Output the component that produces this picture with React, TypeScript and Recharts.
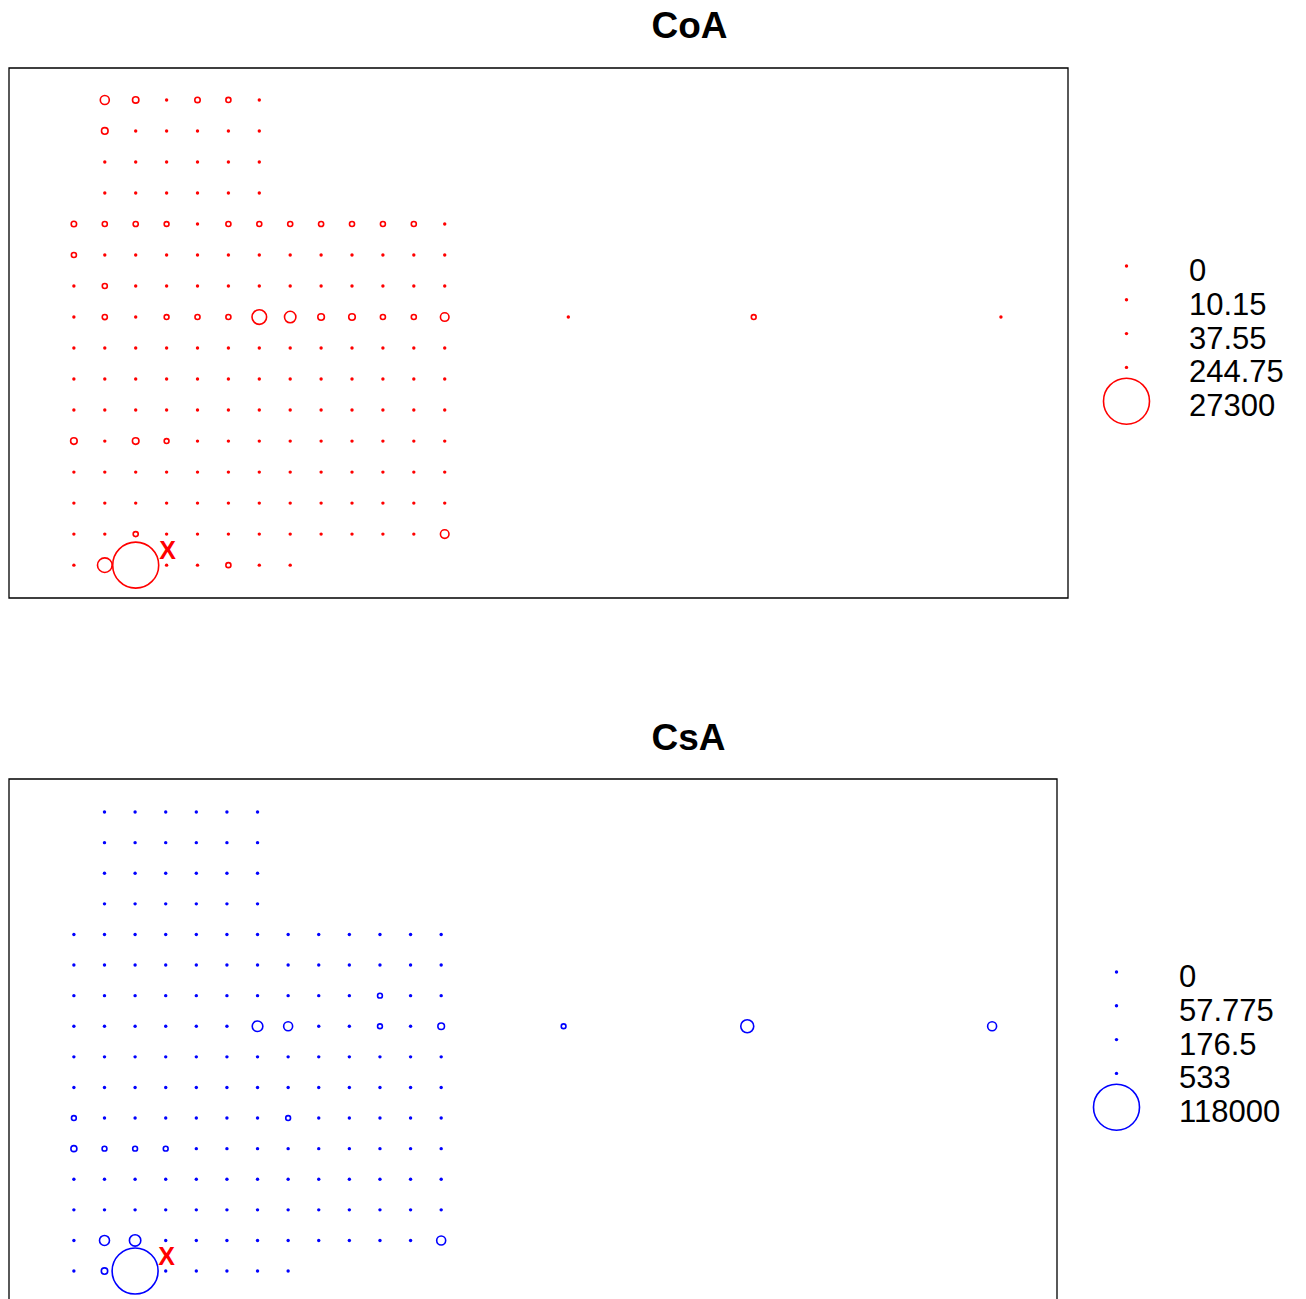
import React from 'react';
import { ScatterChart, Scatter, XAxis, YAxis, ZAxis, ReferenceArea } from 'recharts';

// grid positions (columns left to right, rows top to bottom)
const gridCols = [0, 1, 2, 3, 4, 5, 6, 7, 8, 9, 10, 11, 12];
const gridRows = [15, 14, 13, 12, 11, 10, 9, 8, 7, 6, 5, 4, 3, 2, 1, 0];
const farCols = [16, 22, 30];
const farRow = 8;
const sourceSpot = [{ x: 3.03, y: 0.5, label: 'X' }];

// CoA values per row (null = no sample)
const coaRows: (number | null)[][] = [
  [null, 1050, 530, 40, 380, 330, 60, null, null, null, null, null, null],
  [null, 560, 25, 30, 18, 22, 35, null, null, null, null, null, null],
  [null, 12, 15, 20, 10, 14, 28, null, null, null, null, null, null],
  [null, 8, 11, 16, 9, 12, 20, null, null, null, null, null, null],
  [380, 330, 340, 300, 90, 330, 320, 330, 340, 330, 320, 330, 120],
  [330, 40, 30, 25, 20, 30, 35, 28, 22, 18, 25, 30, 45],
  [60, 330, 45, 30, 25, 20, 35, 30, 25, 20, 15, 20, 40],
  [80, 340, 70, 300, 330, 330, 2750, 1680, 560, 560, 330, 330, 950],
  [20, 15, 12, 10, 8, 10, 15, 12, 10, 8, 6, 10, 18],
  [10, 8, 6, 5, 4, 6, 8, 6, 5, 4, 3, 5, 10],
  [8, 6, 5, 4, 3, 4, 6, 5, 4, 3, 0, 4, 8],
  [560, 40, 560, 300, 30, 12, 10, 8, 6, 5, 4, 6, 10],
  [20, 15, 25, 20, 10, 8, 6, 5, 4, 3, 0, 3, 6],
  [30, 25, 40, 30, 15, 10, 8, 6, 5, 4, 3, 0, 4],
  [50, 80, 330, 60, 30, 20, 15, 10, 8, 5, 3, 0, 950],
  [100, 2750, 27300, 150, 60, 330, 40, 20, null, null, null, null, null],
];
const coaFar = [30, 300, 10];
const coaKeys = [0, 10.15, 37.55, 244.75, 27300];
const coaKeyLabels = ['0', '10.15', '37.55', '244.75', '27300'];

// CsA values per row
const csaRows: (number | null)[][] = [
  [null, 50, 40, 30, 35, 45, 60, null, null, null, null, null, null],
  [null, 40, 30, 25, 30, 35, 50, null, null, null, null, null, null],
  [null, 30, 25, 20, 25, 30, 40, null, null, null, null, null, null],
  [null, 25, 20, 15, 20, 25, 35, null, null, null, null, null, null],
  [100, 80, 60, 50, 60, 70, 90, 80, 70, 60, 70, 80, 100],
  [150, 120, 90, 70, 80, 100, 130, 110, 90, 80, 100, 120, 150],
  [200, 160, 120, 90, 100, 130, 180, 150, 120, 100, 1300, 160, 200],
  [300, 250, 180, 150, 160, 200, 6300, 4500, 250, 200, 1300, 300, 2430],
  [250, 200, 150, 120, 130, 160, 220, 180, 150, 130, 160, 200, 300],
  [200, 160, 130, 100, 110, 140, 180, 150, 120, 100, 130, 160, 250],
  [1300, 180, 150, 120, 130, 160, 200, 1300, 140, 120, 150, 180, 280],
  [2000, 1300, 1300, 1300, 200, 180, 220, 200, 160, 140, 170, 200, 300],
  [400, 350, 300, 250, 200, 180, 160, 150, 130, 120, 140, 170, 250],
  [500, 450, 400, 350, 280, 220, 180, 160, 140, 130, 150, 200, 350],
  [600, 5575, 7250, 520, 400, 300, 250, 200, 180, 160, 200, 300, 4500],
  [0, 2280, 118000, 530, 450, 350, 300, 250, null, null, null, null, null],
];
const csaFar = [1250, 9400, 4500];
const csaKeys = [0, 57.775, 176.5, 533, 118000];
const csaKeyLabels = ['0', '57.775', '176.5', '533', '118000'];

const MAX_R = 23;
const FONT = 'Liberation Sans, Arial, Helvetica, sans-serif';

function toPoints(rows: (number | null)[][], far: number[]) {
  const pts: { x: number; y: number; v: number }[] = [];
  rows.forEach((row, j) =>
    row.forEach((v, i) => {
      if (v !== null) pts.push({ x: gridCols[i], y: gridRows[j], v });
    })
  );
  far.forEach((v, k) => pts.push({ x: farCols[k], y: farRow, v }));
  return pts;
}

// tiny circles read as dots, like R's pch=1 at small cex
function symbol(cx: number, cy: number, r: number, color: string) {
  if (!(r >= 2.25)) return <circle cx={cx} cy={cy} r={1.7} fill={color} />;
  return <circle cx={cx} cy={cy} r={r} fill="none" stroke={color} strokeWidth={1.6} />;
}

const bubble = (color: string) => (props: any) => {
  const r = props.width ? props.width / 2 : Math.sqrt((props.size ?? 0) / Math.PI);
  return symbol(props.cx, props.cy, r, color);
};

const sourceMark = (props: any) => (
  <text
    x={props.cx}
    y={props.cy}
    textAnchor="middle"
    dominantBaseline="central"
    fill="#ff0000"
    fontWeight="bold"
    fontSize={25}
    fontFamily={FONT}
  >
    X
  </text>
);

interface PanelProps {
  top: number;
  height: number;
  right: number;
  plotBottom: number;
  xDomain: [number, number];
  yDomain: [number, number];
  rows: (number | null)[][];
  far: number[];
  max: number;
  color: string;
}

function Panel({ top, height, right, plotBottom, xDomain, yDomain, rows, far, max, color }: PanelProps) {
  const data = toPoints(rows, far);
  return (
    <div style={{ position: 'absolute', left: 0, top }}>
      <ScatterChart
        width={1306}
        height={height}
        margin={{ top: 68, left: 9, right: 1306 - right, bottom: plotBottom }}
      >
        <XAxis type="number" dataKey="x" domain={xDomain} allowDataOverflow hide />
        <YAxis type="number" dataKey="y" domain={yDomain} allowDataOverflow hide />
        <ZAxis type="number" dataKey="v" domain={[0, max]} range={[0, Math.PI * MAX_R * MAX_R]} />
        <ReferenceArea
          x1={xDomain[0]}
          x2={xDomain[1]}
          y1={yDomain[0]}
          y2={yDomain[1]}
          fill="none"
          stroke="#000"
          strokeWidth={1.3}
          ifOverflow="visible"
        />
        <Scatter data={data} shape={bubble(color)} isAnimationActive={false} />
        <Scatter data={sourceSpot} shape={sourceMark} isAnimationActive={false} />
      </ScatterChart>
    </div>
  );
}

function KeyBlock({ keys, labels, max, color, sx, tx, base }: {
  keys: number[]; labels: string[]; max: number; color: string; sx: number; tx: number; base: number;
}) {
  return (
    <g>
      {keys.map((k, i) => {
        const y = base + i * 33.8;
        return (
          <g key={labels[i]}>
            {symbol(sx, y - 15, MAX_R * Math.sqrt(k / max), color)}
            <text x={tx} y={y} fontSize={31} fontFamily={FONT} fill="#000">
              {labels[i]}
            </text>
          </g>
        );
      })}
    </g>
  );
}

export default function App() {
  return (
    <div
      style={{
        position: 'absolute',
        left: 0,
        top: 0,
        width: 1306,
        height: 1299,
        overflow: 'hidden',
        background: '#fff',
      }}
    >
      <Panel
        top={0}
        height={700}
        right={1068}
        plotBottom={102}
        xDomain={[-2.1, 32.17]}
        yDomain={[-1.06, 16.03]}
        rows={coaRows}
        far={coaFar}
        max={27300}
        color="#ff0000"
      />
      <Panel
        top={711}
        height={600}
        right={1057}
        plotBottom={7.5}
        xDomain={[-2.12, 32.12]}
        yDomain={[-1.06, 16.08]}
        rows={csaRows}
        far={csaFar}
        max={118000}
        color="#0000ff"
      />
      <svg
        width={1306}
        height={1299}
        style={{ position: 'absolute', left: 0, top: 0, pointerEvents: 'none' }}
      >
        <text x={689.5} y={38} textAnchor="middle" fontSize={37} fontWeight="bold" fontFamily={FONT}>
          CoA
        </text>
        <text x={688.5} y={750} textAnchor="middle" fontSize={37} fontWeight="bold" fontFamily={FONT}>
          CsA
        </text>
        <KeyBlock keys={coaKeys} labels={coaKeyLabels} max={27300} color="#ff0000" sx={1126.5} tx={1189} base={281} />
        <KeyBlock keys={csaKeys} labels={csaKeyLabels} max={118000} color="#0000ff" sx={1116.5} tx={1179} base={987} />
      </svg>
    </div>
  );
}
